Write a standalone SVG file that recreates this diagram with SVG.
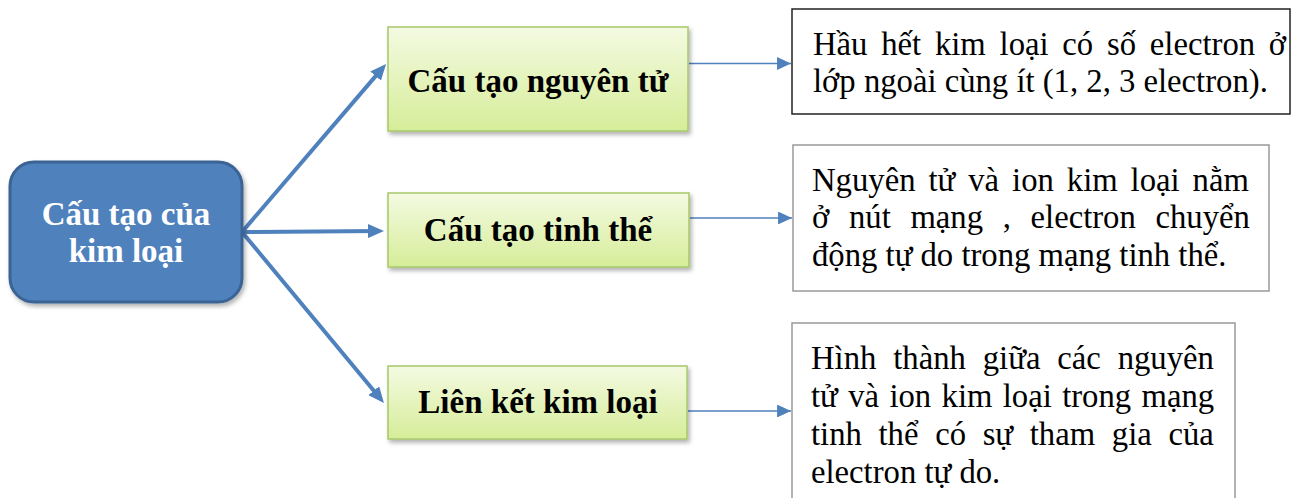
<svg xmlns="http://www.w3.org/2000/svg" width="1299" height="498" viewBox="0 0 1299 498">
<style>
.main{fill:#4F81BD;stroke:#3A6494;stroke-width:3}
.mt{font-weight:bold;font-size:33px;fill:#fff;text-anchor:middle}
.green{fill:url(#gg);stroke:#A6C86A;stroke-width:1.5}
.gt{font-weight:bold;font-size:33px;fill:#000;text-anchor:middle}
.box{fill:#fff;stroke:#999;stroke-width:1.5}
.bt{font-size:32.7px;fill:#000}
.big{stroke:#4F81BD;stroke-width:4;fill:none;marker-end:url(#ab)}
.small{stroke:#4F81BD;stroke-width:1.7;fill:none;marker-end:url(#as)}
</style>
<defs>
<linearGradient id="gg" x1="0" y1="0" x2="0" y2="1">
<stop offset="0" stop-color="#F4FAE2"/>
<stop offset="1" stop-color="#D6ED99"/>
</linearGradient>
<filter id="sh" x="-10%" y="-10%" width="130%" height="140%">
<feDropShadow dx="2" dy="3" stdDeviation="2" flood-color="#000" flood-opacity="0.3"/>
</filter>
<marker id="ab" viewBox="0 0 10 10" refX="7" refY="5" markerWidth="4" markerHeight="3.5" orient="auto" markerUnits="strokeWidth" preserveAspectRatio="none">
<path d="M0,0 L10,5 L0,10 z" fill="#4F81BD"/>
</marker>
<marker id="as" viewBox="0 0 10 10" refX="10" refY="5" markerWidth="8.2" markerHeight="7.6" orient="auto" markerUnits="strokeWidth" preserveAspectRatio="none">
<path d="M0,0 L10,5 L0,10 z" fill="#4F81BD"/>
</marker>
</defs>
<g id="connectors">
<line class="big" x1="242" y1="232" x2="382.9" y2="67.6"/>
<line class="big" x1="242" y1="232" x2="379.2" y2="231"/>
<line class="big" x1="242" y1="232" x2="380.9" y2="399.3"/>
<line class="small" x1="689" y1="63.5" x2="791" y2="63.5"/>
<line class="small" x1="690" y1="218" x2="792" y2="218"/>
<line class="small" x1="688" y1="411" x2="791" y2="411"/>
</g>
<g id="main">
<rect class="main" x="10" y="162" width="232" height="140" rx="24" filter="url(#sh)"/>
<text class="mt" font-family="Liberation Serif, serif" x="126" y="225">Cấu tạo của</text>
<text class="mt" font-family="Liberation Serif, serif" x="126" y="262">kim loại</text>
</g>
<g id="n1">
<rect class="green" x="388" y="27" width="300" height="104" filter="url(#sh)"/>
<text class="gt" font-family="Liberation Serif, serif" x="538" y="92">Cấu tạo nguyên tử</text>
</g>
<g id="n2">
<rect class="green" x="388" y="193" width="301" height="74" filter="url(#sh)"/>
<text class="gt" font-family="Liberation Serif, serif" x="538" y="241">Cấu tạo tinh thể</text>
</g>
<g id="n3">
<rect class="green" x="388" y="366" width="299" height="73" filter="url(#sh)"/>
<text class="gt" font-family="Liberation Serif, serif" x="538" y="413">Liên kết kim loại</text>
</g>
<g id="d1">
<rect x="792" y="9" width="498" height="105" fill="#fff" stroke="#222" stroke-width="1.5"/>
<text class="bt" font-family="Liberation Serif, serif" x="813" y="55" word-spacing="5.6">Hầu hết kim loại có số electron ở</text>
<text class="bt" font-family="Liberation Serif, serif" x="813" y="92">lớp ngoài cùng ít (1, 2, 3 electron).</text>
</g>
<g id="d2">
<rect class="box" x="793" y="145" width="476" height="146"/>
<text class="bt" font-family="Liberation Serif, serif" x="812" y="191" word-spacing="4.8">Nguyên tử và ion kim loại nằm</text>
<text class="bt" font-family="Liberation Serif, serif" x="812" y="228" word-spacing="11.5">ở nút mạng , electron chuyển</text>
<text class="bt" font-family="Liberation Serif, serif" x="812" y="266">động tự do trong mạng tinh thể.</text>
</g>
<g id="d3">
<rect class="box" x="792" y="323" width="443" height="190"/>
<text class="bt" font-family="Liberation Serif, serif" x="811" y="369" word-spacing="8.7">Hình thành giữa các nguyên</text>
<text class="bt" font-family="Liberation Serif, serif" x="811" y="407" word-spacing="2.2">tử và ion kim loại trong mạng</text>
<text class="bt" font-family="Liberation Serif, serif" x="811" y="445" word-spacing="8.5">tinh thể có sự tham gia của</text>
<text class="bt" font-family="Liberation Serif, serif" x="811" y="483">electron tự do.</text>
</g>
</svg>
